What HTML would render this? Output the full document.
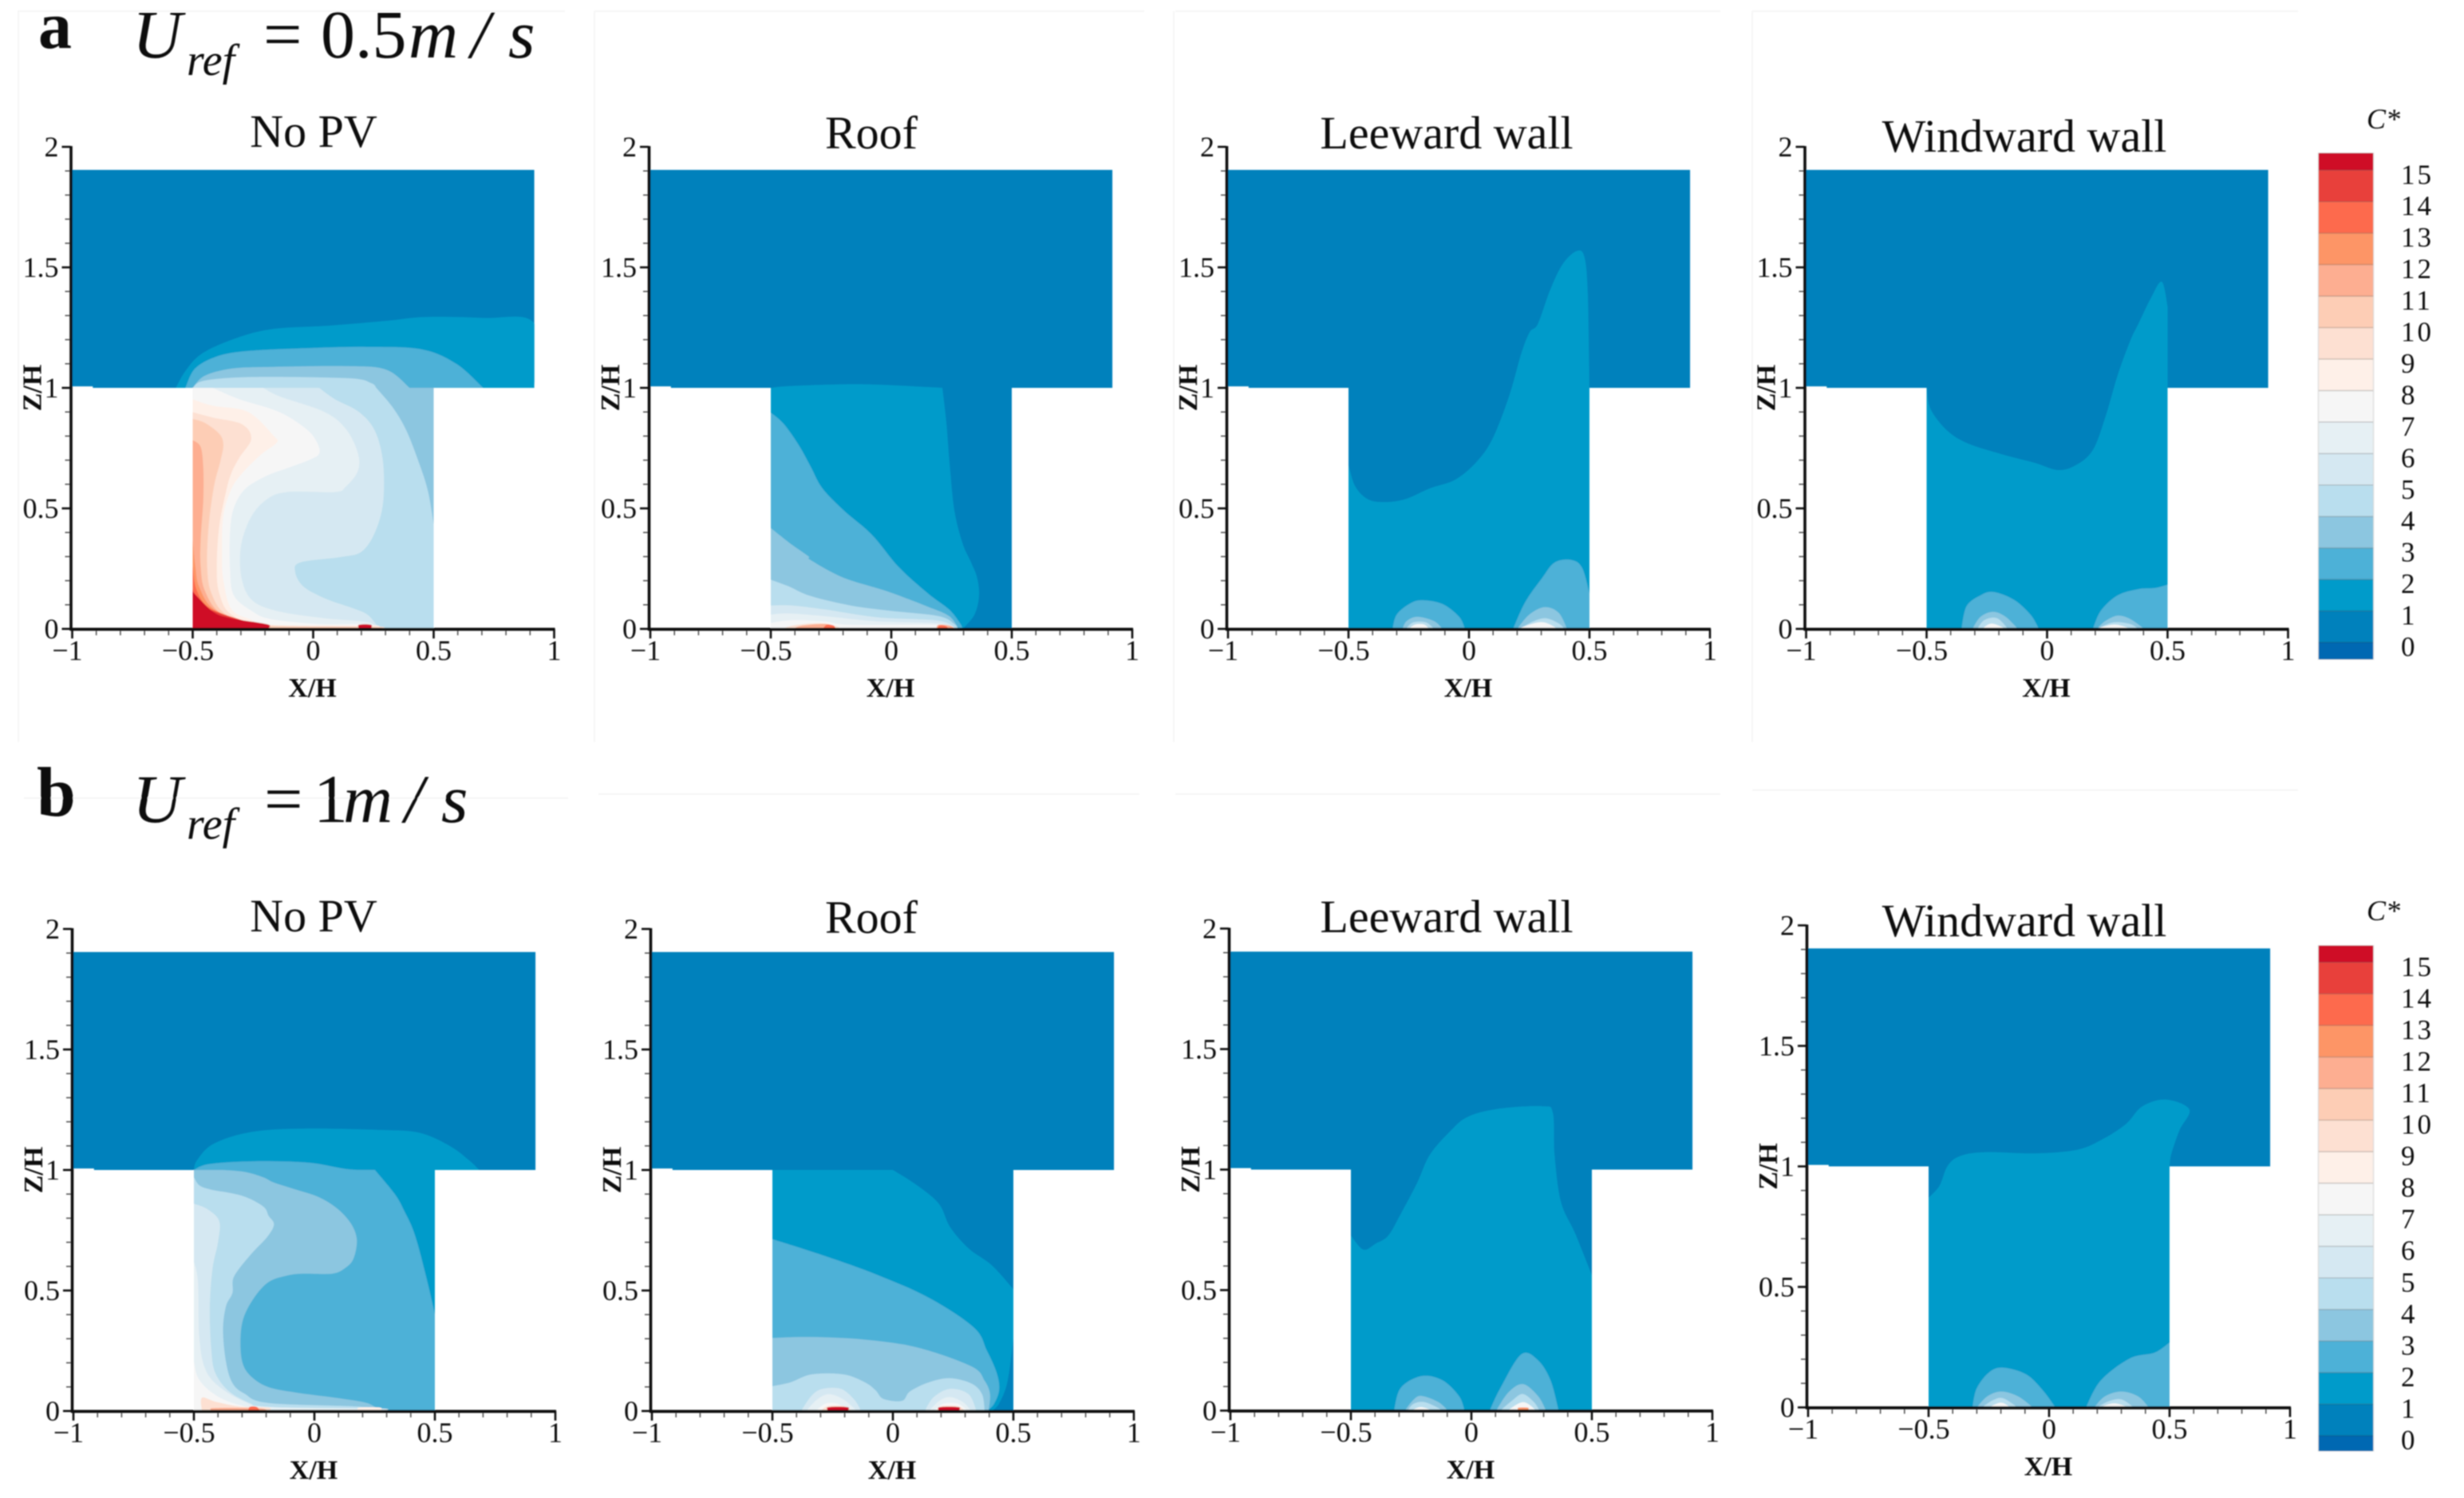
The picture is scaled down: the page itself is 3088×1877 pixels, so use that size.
<!DOCTYPE html>
<html lang="en">
<head>
<meta charset="utf-8">
<title>C* contours for Uref 0.5 and 1 m/s</title>
<style>
html,body{margin:0;padding:0;background:#fff;width:3088px;height:1877px;overflow:hidden}
svg{display:block}
text{font-family:"Liberation Serif",serif;fill:#111}
.tick{font-size:36px}
.axis{font-size:34px;font-weight:bold}
.title{font-size:58px;text-anchor:middle}
.head{font-size:86px}
.it{font-style:italic}
.cb{font-size:35px;letter-spacing:3px}
</style>
</head>
<body>
<svg id="chart" xmlns="http://www.w3.org/2000/svg" width="3088" height="1877" viewBox="0 0 3088 1877">
<defs>
<filter id="soft" filterUnits="userSpaceOnUse" x="0" y="0" width="3088" height="1877"><feGaussianBlur stdDeviation="0.9"/></filter>
</defs>
<rect width="3088" height="1877" fill="#fff"/>
<g id="root" filter="url(#soft)">
<g stroke="#f6f6f6" stroke-width="2" fill="none">
<path d="M22 14H708M745 14H1434M1473 14H2156M2196 14H2880M23 14V930M745 14V930M1471 14V930M2196 14V930"/>
<path d="M30 1000H712M750 995H1428M1473 995H2156M2196 990H2880"/>
</g>

<text x="48" y="60" font-size="84" font-weight="bold">a</text>
<text class="head it" x="166" y="72">U</text>
<text class="it" x="234" y="94" font-size="56">ref</text>
<text class="head" x="330" y="72">=</text>
<text class="head" x="402" y="72">0.5</text>
<text class="head it" x="512" y="72">m</text>
<text class="head it" x="590" y="72">/</text>
<text class="head it" x="637" y="72">s</text>

<text x="46" y="1022" font-size="88" font-weight="bold">b</text>
<text class="head it" x="166" y="1030">U</text>
<text class="it" x="234" y="1051" font-size="56">ref</text>
<text class="head" x="331" y="1030">=</text>
<text class="head" x="393" y="1030">1</text>
<text class="head it" x="430" y="1030">m</text>
<text class="head it" x="507" y="1030">/</text>
<text class="head it" x="553" y="1030">s</text>

<text class="title" x="393" y="184">No PV</text>
<text class="title" x="1092" y="186">Roof</text>
<text class="title" x="1813" y="186">Leeward wall</text>
<text class="title" x="2537" y="190">Windward wall</text>
<text class="title" x="393" y="1167">No PV</text>
<text class="title" x="1092" y="1169">Roof</text>
<text class="title" x="1813" y="1168">Leeward wall</text>
<text class="title" x="2537" y="1173">Windward wall</text>

<text class="it" x="2966" y="161" font-size="36">C*</text>
<text class="it" x="2966" y="1153" font-size="36">C*</text>
</g>
</svg>
<script>
// Chart data: colour levels, tick labels and contour outlines in (X/H, Z/H) units.
const levelColors = ["#0067b2","#0081bc","#009bca","#4db1d7","#8cc6e0","#b9deee","#d5e8f2","#e6f0f4","#f6f6f6","#fef0e8","#fde0d2","#fdcdb5","#fdae91","#fd9566","#fd6a4e","#e8403b","#cf0e25"];
const colorbarLabels = [0,1,2,3,4,5,6,7,8,9,10,11,12,13,14,15];
const xTickValues = [-1,-0.5,0,0.5,1];
const xTickLabels = ["\u22121","\u22120.5","0","0.5","1"];
const zTickValues = [0,0.5,1,1.5,2];
const zTickLabels = ["0","0.5","1","1.5","2"];
const domainOutline = [[-1,1.905],[0.918,1.905],[0.918,1],[0.5,1],[0.5,0],[-0.5,0],[-0.5,1],[-0.915,1],[-0.915,1.006],[-1,1.006]];

// Row a, No PV
const a1L2 = [[-0.57,1],[-0.53,1.07],[-0.465,1.14],[-0.337,1.2],[-0.176,1.243],[0.064,1.258],[0.304,1.278],[0.465,1.294],[0.705,1.29],[0.917,1.268],[0.917,1]];
const a1L3 = [[-0.53,1],[-0.49,1.08],[-0.4,1.13],[-0.27,1.153],[-0.016,1.165],[0.224,1.17],[0.449,1.16],[0.593,1.1],[0.705,1]];
const a1L4 = [[-0.5,1],[-0.45,1.05],[-0.337,1.08],[-0.176,1.087],[0.144,1.09],[0.304,1.075],[0.4,1],[0.5,1],[0.5,0],[-0.5,0]];
const a1L5 = [[-0.5,1],[-0.45,1.03],[-0.25,1.045],[0.144,1.04],[0.24,1.02],[0.262,1],[0.333,0.915],[0.388,0.82],[0.443,0.678],[0.477,0.568],[0.5,0.435],[0.5,0],[-0.5,0]];
const a1L6 = [[-0.5,1],[0.025,1],[0.09,0.953],[0.19,0.9],[0.257,0.82],[0.29,0.69],[0.29,0.524],[0.257,0.402],[0.2,0.32],[0.113,0.298],[-0.052,0.276],[-0.075,0.237],[-0.041,0.176],[0.047,0.127],[0.158,0.088],[0.224,0.06],[0.268,0.011],[0.28,0],[-0.5,0]];
const a1L7 = [[-0.5,1],[-0.207,1],[-0.14,0.965],[0.047,0.9],[0.135,0.83],[0.185,0.73],[0.185,0.655],[0.135,0.59],[0.09,0.568],[-0.108,0.568],[-0.196,0.535],[-0.262,0.457],[-0.301,0.336],[-0.296,0.204],[-0.25,0.116],[-0.141,0.072],[0.047,0.044],[0.224,0.028],[0.27,0],[-0.5,0]];
const a1L8 = [[-0.5,1],[-0.417,1],[-0.307,0.953],[-0.141,0.9],[-0.03,0.83],[0.014,0.777],[0.025,0.728],[-0.019,0.7],[-0.108,0.667],[-0.196,0.634],[-0.284,0.579],[-0.33,0.5],[-0.345,0.402],[-0.345,0.248],[-0.329,0.138],[-0.251,0.072],[-0.174,0.04],[0.025,0.02],[0.224,0.02],[0.27,0],[-0.5,0]];
const a1L9 = [[-0.5,0.953],[-0.417,0.926],[-0.27,0.9],[-0.163,0.8],[-0.152,0.772],[-0.218,0.722],[-0.295,0.645],[-0.34,0.579],[-0.373,0.469],[-0.378,0.314],[-0.373,0.204],[-0.34,0.083],[-0.262,0.04],[-0.174,0.017],[0.135,0.014],[0.265,0.014],[0.27,0],[-0.5,0]];
const a1L10 = [[-0.5,0.899],[-0.417,0.877],[-0.295,0.849],[-0.257,0.788],[-0.306,0.711],[-0.34,0.645],[-0.362,0.568],[-0.39,0.424],[-0.4,0.259],[-0.39,0.149],[-0.34,0.06],[-0.196,0.017],[0.26,0.01],[0.27,0],[-0.5,0]];
const a1L11 = [[-0.5,0.871],[-0.45,0.855],[-0.39,0.81],[-0.373,0.766],[-0.384,0.7],[-0.412,0.59],[-0.434,0.424],[-0.44,0.259],[-0.423,0.149],[-0.362,0.06],[-0.218,0.014],[0.25,0.008],[0.26,0],[-0.5,0]];
const a1L12 = [[-0.5,0.783],[-0.467,0.755],[-0.456,0.667],[-0.456,0.535],[-0.467,0.369],[-0.467,0.259],[-0.45,0.16],[-0.384,0.066],[-0.218,0.014],[-0.19,0],[-0.5,0]];
const a1L13 = [[-0.5,0.369],[-0.489,0.259],[-0.472,0.171],[-0.406,0.077],[-0.23,0.017],[-0.19,0],[-0.5,0]];
const a1L14 = [[-0.5,0.259],[-0.483,0.16],[-0.423,0.083],[-0.24,0.019],[-0.19,0],[-0.5,0]];
const a1L15 = [[-0.5,0.204],[-0.494,0.149],[-0.433,0.083],[-0.25,0.022],[-0.19,0],[-0.5,0]];
const a1L16a = [[-0.5,0.154],[-0.417,0.072],[-0.34,0.044],[-0.19,0.019],[-0.19,0],[-0.5,0]];
const a1L16b = [[0.19,0.017],[0.24,0.017],[0.24,0],[0.19,0]];

// Row a, Roof
const a2L2 = [[-0.5,1],[-0.41,1.008],[-0.12,1.015],[0.212,1],[0.228,0.86],[0.244,0.662],[0.262,0.49],[0.295,0.357],[0.329,0.28],[0.356,0.213],[0.364,0.136],[0.345,0.059],[0.296,0],[-0.5,0]];
const a2L3 = [[-0.5,0.897],[-0.447,0.851],[-0.383,0.761],[-0.334,0.672],[-0.286,0.583],[-0.196,0.49],[-0.08,0.39],[0.03,0.257],[0.152,0.147],[0.24,0.08],[0.284,0.025],[0.296,0],[-0.5,0]];
const a2L4 = [[-0.5,0.418],[-0.423,0.357],[-0.345,0.302],[-0.334,0.285],[-0.2,0.213],[-0.024,0.158],[0.152,0.092],[0.24,0.053],[0.279,0],[-0.5,0]];
const a2L5 = [[-0.5,0.204],[-0.423,0.175],[-0.334,0.136],[-0.169,0.097],[-0.003,0.075],[0.196,0.053],[0.262,0.02],[0.276,0],[-0.5,0]];
const a2L6 = [[-0.5,0.097],[-0.412,0.097],[-0.279,0.081],[-0.058,0.048],[0.196,0.034],[0.27,0],[-0.5,0]];
const a2L7 = [[-0.5,0.059],[-0.423,0.064],[-0.279,0.053],[-0.058,0.031],[0.196,0.023],[0.27,0],[-0.5,0]];
const a2L8 = [[-0.5,0.025],[-0.412,0.036],[-0.279,0.031],[-0.169,0.017],[0.196,0.017],[0.27,0],[-0.5,0]];
const a2L10 = [[-0.456,0],[-0.39,0.017],[-0.279,0.023],[-0.2,0]];
const a2L12a = [[-0.41,0],[-0.367,0.014],[-0.268,0.02],[-0.224,0]];
const a2L14a = [[-0.285,0],[-0.268,0.017],[-0.24,0.014],[-0.23,0]];
const a2L12b = [[0.187,0],[0.196,0.017],[0.24,0.014],[0.268,0]];
const a2L14b = [[0.19,0],[0.2,0.014],[0.225,0.012],[0.24,0]];

// Row a, Leeward wall
const a3L2 = [[-0.5,0.68],[-0.472,0.591],[-0.42,0.538],[-0.352,0.526],[-0.265,0.538],[-0.162,0.583],[-0.059,0.618],[0.028,0.689],[0.097,0.787],[0.166,0.964],[0.217,1.142],[0.252,1.231],[0.286,1.266],[0.338,1.409],[0.39,1.515],[0.448,1.568],[0.479,1.542],[0.493,1.391],[0.5,1],[0.5,0],[-0.5,0]];
const a3L3a = [[-0.317,0],[-0.3,0.059],[-0.248,0.103],[-0.197,0.119],[-0.11,0.103],[-0.041,0.05],[-0.017,0]];
const a3L3b = [[0.183,0],[0.234,0.112],[0.303,0.21],[0.355,0.275],[0.424,0.286],[0.469,0.254],[0.5,0.147],[0.5,0]];
const a3L4a = [[-0.276,0],[-0.259,0.032],[-0.214,0.05],[-0.145,0.032],[-0.11,0]];
const a3L4b = [[0.2,0],[0.25,0.059],[0.314,0.09],[0.372,0.067],[0.407,0]];
const a3L5a = [[-0.262,0],[-0.231,0.027],[-0.179,0.027],[-0.145,0]];
const a3L5b = [[0.21,0],[0.269,0.032],[0.32,0.044],[0.372,0.023],[0.397,0]];
const a3L8a = [[-0.25,0],[-0.224,0.018],[-0.186,0.018],[-0.165,0]];
const a3L8b = [[0.2,0],[0.3,0.028],[0.37,0]];

// Row a, Windward wall
const a4L2 = [[-0.5,1],[-0.483,0.911],[-0.414,0.822],[-0.328,0.769],[-0.19,0.725],[-0.052,0.689],[0.045,0.659],[0.121,0.68],[0.19,0.742],[0.241,0.876],[0.293,1.053],[0.345,1.195],[0.379,1.266],[0.431,1.373],[0.476,1.44],[0.5,1.337],[0.5,1],[0.5,0],[-0.5,0]];
const a4L3a = [[-0.355,0],[-0.334,0.094],[-0.276,0.139],[-0.224,0.153],[-0.138,0.121],[-0.069,0.059],[-0.034,0]];
const a4L3b = [[0.19,0],[0.224,0.076],[0.293,0.139],[0.379,0.165],[0.448,0.17],[0.5,0.183],[0.5,0]];
const a4L4a = [[-0.31,0],[-0.276,0.05],[-0.224,0.071],[-0.172,0.05],[-0.121,0]];
const a4L4b = [[0.207,0],[0.241,0.032],[0.293,0.055],[0.345,0.041],[0.403,0]];
const a4L5a = [[-0.29,0],[-0.259,0.037],[-0.207,0.044],[-0.162,0]];
const a4L5b = [[0.207,0],[0.276,0.027],[0.345,0.02],[0.379,0]];
const a4L8a = [[-0.27,0],[-0.23,0.022],[-0.17,0]];
const a4L8b = [[0.2,0],[0.28,0.018],[0.35,0]];

// Row b, No PV
const b1L2 = [[-0.5,1],[-0.487,1.04],[-0.418,1.109],[-0.259,1.158],[-0.038,1.172],[0.278,1.166],[0.437,1.154],[0.563,1.099],[0.642,1.04],[0.684,1],[0.5,1],[0.5,0],[-0.5,0]];
const b1L3 = [[-0.5,1],[-0.434,1.025],[-0.246,1.036],[-0.025,1.03],[0.141,1.003],[0.251,1],[0.334,0.899],[0.372,0.832],[0.416,0.733],[0.461,0.568],[0.5,0.402],[0.5,0],[-0.5,0]];
const b1L4 = [[-0.5,1],[-0.378,1],[-0.29,0.992],[-0.213,0.97],[-0.168,0.948],[-0.08,0.92],[0.019,0.887],[0.097,0.838],[0.152,0.777],[0.176,0.711],[0.163,0.634],[0.13,0.595],[0.075,0.57],[-0.047,0.57],[-0.113,0.562],[-0.19,0.535],[-0.251,0.469],[-0.296,0.38],[-0.307,0.281],[-0.296,0.193],[-0.257,0.138],[-0.19,0.099],[-0.08,0.077],[0.086,0.055],[0.218,0.033],[0.273,0],[-0.5,0]];
const b1L5 = [[-0.5,0.97],[-0.478,0.937],[-0.434,0.92],[-0.301,0.893],[-0.213,0.849],[-0.19,0.81],[-0.168,0.774],[-0.196,0.722],[-0.268,0.645],[-0.334,0.557],[-0.34,0.49],[-0.367,0.435],[-0.379,0.336],[-0.367,0.204],[-0.34,0.116],[-0.29,0.072],[-0.19,0.033],[0.19,0.018],[0.273,0],[-0.5,0]];
const b1L6 = [[-0.5,0.86],[-0.445,0.838],[-0.395,0.788],[-0.4,0.7],[-0.423,0.59],[-0.434,0.425],[-0.428,0.259],[-0.412,0.16],[-0.356,0.083],[-0.268,0.033],[-0.19,0.014],[0.273,0.011],[0.273,0],[-0.5,0]];
const b1L7 = [[-0.5,0.62],[-0.483,0.535],[-0.478,0.314],[-0.456,0.182],[-0.4,0.105],[-0.29,0.039],[-0.19,0.017],[0.19,0.009],[0.273,0],[-0.5,0]];
const b1L8 = [[-0.5,0.204],[-0.483,0.138],[-0.434,0.083],[-0.356,0.039],[-0.213,0],[-0.5,0]];
const b1L10 = [[-0.467,0.055],[-0.412,0.039],[-0.312,0.019],[-0.19,0.014],[-0.19,0],[-0.467,0]];
const b1L12 = [[-0.42,0.012],[-0.25,0.012],[-0.2,0.006],[-0.2,0],[-0.42,0]];
const b1L14 = [[-0.268,0.017],[-0.24,0.017],[-0.225,0],[-0.275,0]];
const b1L9 = [[0.185,0.014],[0.273,0.014],[0.273,0],[0.185,0]];

// Row b, Roof
const b2L2 = [[-0.5,1],[0,1],[0.095,0.94],[0.19,0.861],[0.238,0.762],[0.316,0.673],[0.411,0.604],[0.5,0.505],[0.5,0.3],[0.475,0.12],[0.44,0.03],[0.41,0],[-0.5,0]];
const b2L3 = [[-0.5,0.713],[-0.285,0.644],[-0.063,0.564],[0.158,0.465],[0.337,0.345],[0.39,0.25],[0.43,0.16],[0.441,0.09],[0.42,0.03],[0.39,0],[-0.5,0]];
const b2L4 = [[-0.5,0.303],[-0.337,0.307],[-0.116,0.296],[0.104,0.263],[0.326,0.185],[0.381,0.125],[0.403,0.07],[0.397,0],[-0.5,0]];
const b2L5 = [[-0.5,0.103],[-0.425,0.119],[-0.337,0.152],[-0.205,0.152],[-0.116,0.119],[-0.072,0.086],[-0.039,0.05],[0.038,0.042],[0.071,0.081],[0.149,0.119],[0.237,0.136],[0.326,0.114],[0.37,0.07],[0.381,0],[-0.5,0]];
const b2L6a = [[-0.381,0],[-0.337,0.064],[-0.292,0.092],[-0.215,0.092],[-0.16,0.047],[-0.132,0]];
const b2L6b = [[0.132,0],[0.17,0.058],[0.237,0.092],[0.314,0.07],[0.347,0]];
const b2L7a = [[-0.359,0],[-0.315,0.047],[-0.265,0.07],[-0.204,0.047],[-0.149,0]];
const b2L7b = [[0.149,0],[0.193,0.042],[0.237,0.058],[0.292,0.036],[0.325,0]];
const b2L8a = [[-0.32,0],[-0.28,0.03],[-0.23,0.03],[-0.18,0]];
const b2L8b = [[0.17,0],[0.21,0.03],[0.27,0.03],[0.31,0]];
const b2L10a = [[-0.3,0],[-0.27,0.02],[-0.2,0.02],[-0.17,0]];
const b2L10b = [[0.18,0],[0.2,0.02],[0.27,0.02],[0.3,0]];
const b2L16a = [[-0.268,0.016],[-0.188,0.016],[-0.188,0],[-0.268,0]];
const b2L16b = [[0.193,0.016],[0.273,0.016],[0.273,0],[0.193,0]];

// Row b, Leeward wall
const b3L2 = [[-0.5,0.726],[-0.448,0.668],[-0.397,0.693],[-0.345,0.726],[-0.293,0.816],[-0.224,0.947],[-0.172,1.062],[-0.086,1.161],[-0.017,1.218],[0.103,1.251],[0.293,1.263],[0.338,1.235],[0.345,1.062],[0.372,0.865],[0.431,0.734],[0.5,0.562],[0.5,0],[-0.5,0]];
const b3L3a = [[-0.321,0],[-0.293,0.094],[-0.207,0.143],[-0.121,0.126],[-0.052,0.061],[-0.028,0]];
const b3L3b = [[0.076,0],[0.121,0.094],[0.207,0.233],[0.276,0.209],[0.328,0.126],[0.362,0]];
const b3L4a = [[-0.276,0],[-0.241,0.044],[-0.207,0.061],[-0.138,0.036],[-0.097,0]];
const b3L4b = [[0.103,0],[0.155,0.077],[0.214,0.11],[0.276,0.061],[0.31,0]];
const b3L5a = [[-0.265,0],[-0.24,0.028],[-0.2,0.036],[-0.155,0.02],[-0.12,0]];
const b3L5b = [[0.12,0],[0.172,0.044],[0.214,0.069],[0.259,0.036],[0.283,0]];
const b3L8a = [[-0.25,0],[-0.21,0.015],[-0.16,0]];
const b3L8b = [[0.15,0],[0.215,0.035],[0.27,0]];
const b3L13 = [[0.195,0.012],[0.235,0.012],[0.235,0],[0.195,0]];

// Row b, Windward wall
const b4L2 = [[-0.5,0.87],[-0.455,0.919],[-0.421,1.002],[-0.369,1.043],[-0.266,1.059],[-0.06,1.054],[0.112,1.068],[0.215,1.109],[0.318,1.175],[0.387,1.249],[0.484,1.277],[0.582,1.236],[0.541,1.15],[0.507,1.051],[0.5,1],[0.5,0],[-0.5,0]];
const b4L3a = [[-0.318,0],[-0.3,0.079],[-0.249,0.145],[-0.191,0.165],[-0.095,0.137],[-0.026,0.071],[0.026,0]];
const b4L3b = [[0.153,0],[0.215,0.112],[0.335,0.203],[0.438,0.227],[0.5,0.269],[0.5,0]];
const b4L4a = [[-0.3,0],[-0.256,0.046],[-0.198,0.066],[-0.129,0.046],[-0.067,0]];
const b4L4b = [[0.187,0],[0.232,0.046],[0.3,0.066],[0.369,0.046],[0.414,0]];
const b4L5a = [[-0.28,0],[-0.232,0.03],[-0.191,0.038],[-0.13,0]];
const b4L5b = [[0.198,0],[0.249,0.026],[0.3,0.033],[0.352,0]];
const b4L8a = [[-0.25,0],[-0.2,0.02],[-0.16,0]];
const b4L8b = [[0.21,0],[0.27,0.017],[0.33,0]];

const a1Levels = [2,3,4,5,6,7,8,9,10,11,12,13,14,15,16,16];
const a1Bands = [a1L2,a1L3,a1L4,a1L5,a1L6,a1L7,a1L8,a1L9,a1L10,a1L11,a1L12,a1L13,a1L14,a1L15,a1L16a,a1L16b];
const a2Levels = [2,3,4,5,6,7,8,10,12,14,12,14];
const a2Bands = [a2L2,a2L3,a2L4,a2L5,a2L6,a2L7,a2L8,a2L10,a2L12a,a2L14a,a2L12b,a2L14b];
const a3Levels = [2,3,3,4,4,5,5,8,8];
const a3Bands = [a3L2,a3L3a,a3L3b,a3L4a,a3L4b,a3L5a,a3L5b,a3L8a,a3L8b];
const a4Levels = [2,3,3,4,4,5,5,8,8];
const a4Bands = [a4L2,a4L3a,a4L3b,a4L4a,a4L4b,a4L5a,a4L5b,a4L8a,a4L8b];
const b1Levels = [2,3,4,5,6,7,8,10,12,14,9];
const b1Bands = [b1L2,b1L3,b1L4,b1L5,b1L6,b1L7,b1L8,b1L10,b1L12,b1L14,b1L9];
const b2Levels = [2,3,4,5,6,6,7,7,8,8,10,10,16,16];
const b2Bands = [b2L2,b2L3,b2L4,b2L5,b2L6a,b2L6b,b2L7a,b2L7b,b2L8a,b2L8b,b2L10a,b2L10b,b2L16a,b2L16b];
const b3Levels = [2,3,3,4,4,5,5,8,8,13];
const b3Bands = [b3L2,b3L3a,b3L3b,b3L4a,b3L4b,b3L5a,b3L5b,b3L8a,b3L8b,b3L13];
const b4Levels = [2,3,3,4,4,5,5,8,8];
const b4Bands = [b4L2,b4L3a,b4L3b,b4L4a,b4L4b,b4L5a,b4L5b,b4L8a,b4L8b];

const NS = "http://www.w3.org/2000/svg";
const root = document.getElementById("root");
const defs = document.querySelector("defs");

function make(tag, parent, attrs, name) {
  const el = document.createElementNS(NS, tag);
  for (const k in attrs) el.setAttribute(k, attrs[k]);
  
  
  parent.appendChild(el);
  return el;
}

// A point on the wall, floor or roofline keeps a sharp corner; interior points are smoothed.
function isCorner(p) {
  return p[1] === 0 || p[1] === 1 || Math.abs(p[0]) === 0.5;
}

function smoothPath(pts, xScale, zScale) {
  const n = pts.length;
  const sx = p => xScale(p[0]);
  const sz = p => zScale(p[1]);
  let d = "M" + sx(pts[0]).toFixed(1) + " " + sz(pts[0]).toFixed(1);
  for (let i = 0; i < n; i++) {
    const p1 = pts[i];
    const p2 = pts[(i + 1) % n];
    const p0 = isCorner(p1) ? p1 : pts[(i - 1 + n) % n];
    const p3 = isCorner(p2) ? p2 : pts[(i + 2) % n];
    const c1x = sx(p1) + (sx(p2) - sx(p0)) / 6;
    const c1y = sz(p1) + (sz(p2) - sz(p0)) / 6;
    const c2x = sx(p2) - (sx(p3) - sx(p1)) / 6;
    const c2y = sz(p2) - (sz(p3) - sz(p1)) / 6;
    d += "C" + c1x.toFixed(1) + " " + c1y.toFixed(1) + " " + c2x.toFixed(1) + " " + c2y.toFixed(1) + " " + sx(p2).toFixed(1) + " " + sz(p2).toFixed(1);
  }
  return d + "Z";
}

function drawPanel(id, layout, levels, bands) {
  const xScale = v => layout.x0 + v * layout.unit;
  const zScale = v => layout.z0 - v * layout.unit;
  const toPoints = pts => pts.map(p => xScale(p[0]).toFixed(1) + "," + zScale(p[1]).toFixed(1)).join(" ");
  const g = make("g", root, {}, "panel-" + id);

  const clip = document.createElementNS(NS, "clipPath");
  clip.setAttribute("id", "clip-" + id);
  const clipShape = document.createElementNS(NS, "polygon");
  clipShape.setAttribute("points", toPoints(domainOutline));
  clip.appendChild(clipShape);
  defs.appendChild(clip);

  const field = make("g", g, {"clip-path": "url(#clip-" + id + ")"}, "contour-field-" + id);
  make("polygon", field, {points: toPoints(domainOutline), fill: levelColors[1]}, "contour-base");
  bands.forEach((band, i) => {
    make("path", field, {d: smoothPath(band, xScale, zScale), fill: levelColors[levels[i]]}, "contour-band-level-" + levels[i]);
  });

  // minor ticks
  for (let k = 0; k <= 20; k++) {
    const v = k / 10;
    if (k % 5) make("line", g, {x1: xScale(-1) - 2, x2: xScale(-1) - 9, y1: zScale(v), y2: zScale(v), stroke: "#555", "stroke-width": 1.6}, "z-minor-tick");
    const u = -1 + k / 10;
    if (k % 5) make("line", g, {x1: xScale(u), x2: xScale(u), y1: layout.z0 + 2, y2: layout.z0 + 8, stroke: "#555", "stroke-width": 1.6}, "x-minor-tick");
  }
  // axis lines
  make("line", g, {x1: xScale(-1) - 1.5, x2: xScale(-1) - 1.5, y1: zScale(2) - 1, y2: layout.z0 + 2, stroke: "#111", "stroke-width": 3.6}, "z-axis-line");
  make("line", g, {x1: xScale(-1) - 3, x2: xScale(1) + 1, y1: layout.z0 + 0.5, y2: layout.z0 + 0.5, stroke: "#111", "stroke-width": 3.8}, "x-axis-line");

  zTickValues.forEach((v, i) => {
    make("line", g, {x1: xScale(-1) - 2, x2: xScale(-1) - 13, y1: zScale(v), y2: zScale(v), stroke: "#111", "stroke-width": 2.6}, "z-major-tick");
    const t = make("text", g, {class: "tick", x: xScale(-1) - 17, y: zScale(v) + 12, "text-anchor": "end"}, "z-tick-label");
    t.textContent = zTickLabels[i];
  });
  xTickValues.forEach((v, i) => {
    make("line", g, {x1: xScale(v), x2: xScale(v), y1: layout.z0, y2: layout.z0 + 12, stroke: "#111", "stroke-width": 2.6}, "x-major-tick");
    const t = make("text", g, {class: "tick", x: xScale(v) - (v < 0 ? 6 : 0), y: layout.z0 + 39, "text-anchor": "middle"}, "x-tick-label");
    t.textContent = xTickLabels[i];
  });
  const xt = make("text", g, {class: "axis", x: xScale(0) - 1, y: layout.z0 + 85, "text-anchor": "middle"}, "x-axis-title");
  xt.textContent = "X/H";
  const cx = xScale(-1) - 39, cy = zScale(1);
  const zt = make("text", g, {class: "axis", x: cx, y: cy, "text-anchor": "middle", transform: "rotate(-90 " + cx + " " + cy + ")"}, "z-axis-title");
  zt.textContent = "Z/H";
}

function drawColorbar(id, bar) {
  const g = make("g", root, {}, "colorbar-" + id);
  const edge = v => bar.zero - v * bar.step;
  levelColors.forEach((c, k) => {
    const top = k === levelColors.length - 1 ? bar.top : edge(k);
    const bottom = k === 0 ? bar.bottom : edge(k - 1);
    make("rect", g, {x: 2906, y: top, width: 68, height: bottom - top, fill: c}, "colorbar-swatch");
    if (k > 0) make("line", g, {x1: 2906, x2: 2974, y1: bottom, y2: bottom, stroke: "rgba(60,60,60,0.22)", "stroke-width": 1.6}, "colorbar-divider");
  });
  make("rect", g, {x: 2905.5, y: bar.top, width: 69, height: bar.bottom - bar.top, fill: "none", stroke: "rgba(120,120,120,0.28)", "stroke-width": 1.4}, "colorbar-frame");
  colorbarLabels.forEach(v => {
    const t = make("text", g, {class: "cb", x: 3009, y: edge(v) + bar.labelDrop}, "colorbar-label");
    t.textContent = v;
  });
}

drawPanel("a-no-pv", {x0: 392.5, z0: 788, unit: 302}, a1Levels, a1Bands);
drawPanel("a-roof", {x0: 1117, z0: 788, unit: 302}, a2Levels, a2Bands);
drawPanel("a-leeward", {x0: 1841, z0: 788, unit: 302}, a3Levels, a3Bands);
drawPanel("a-windward", {x0: 2565.5, z0: 788, unit: 302}, a4Levels, a4Bands);
drawPanel("b-no-pv", {x0: 394, z0: 1768, unit: 302}, b1Levels, b1Bands);
drawPanel("b-roof", {x0: 1119, z0: 1768, unit: 302}, b2Levels, b2Bands);
drawPanel("b-leeward", {x0: 1844, z0: 1767.5, unit: 302}, b3Levels, b3Bands);
drawPanel("b-windward", {x0: 2568, z0: 1763.5, unit: 302}, b4Levels, b4Bands);
drawColorbar("a", {zero: 805, step: 39.45, top: 192, bottom: 826, labelDrop: 17});
drawColorbar("b", {zero: 1799, step: 39.55, top: 1185, bottom: 1818, labelDrop: 17});
</script>
</body>
</html>
